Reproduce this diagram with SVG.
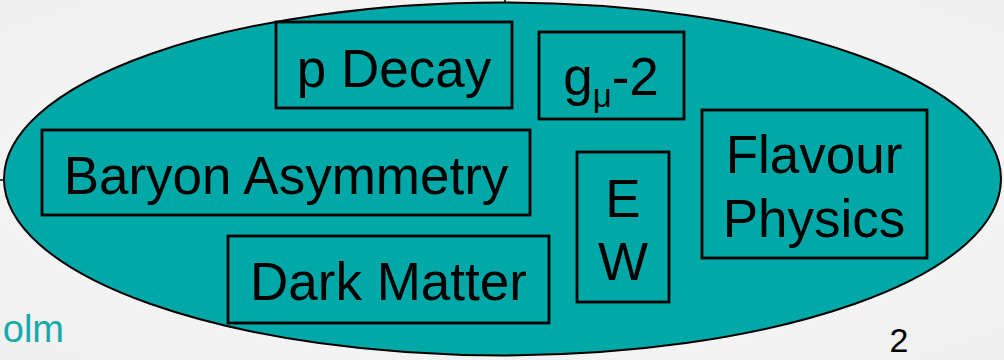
<svg xmlns="http://www.w3.org/2000/svg" width="1004" height="360" viewBox="0 0 1004 360">
  <defs>
    <radialGradient id="bg" cx="0.5" cy="0.5" r="0.7">
      <stop offset="0" stop-color="#f9f9f9"/>
      <stop offset="1" stop-color="#f0f0f0"/>
    </radialGradient>
  </defs>
  <style>
    .box { fill: none; stroke: #000; stroke-width: 2.8; }
    .lbl { font-family: "Liberation Sans", Arial, sans-serif; font-size: 53px; fill: #000; text-anchor: middle; }
    .foot { font-family: "Liberation Sans", Arial, sans-serif; }
  </style>
  <rect x="0" y="0" width="1004" height="360" fill="url(#bg)"/>
  <g id="connectors">
    <line x1="505" y1="0" x2="505" y2="3" stroke="#000" stroke-width="1.5"/>
    <line x1="0" y1="180" x2="5" y2="180" stroke="#000" stroke-width="1.5"/>
  </g>
  <g id="bsm-ellipse">
    <ellipse cx="502.5" cy="179" rx="498.5" ry="176.5" fill="#00A8A8" stroke="#000" stroke-width="2"/>
  </g>
  <g id="p-decay">
    <rect class="box" x="276" y="22" width="236" height="86"/>
    <text class="lbl" x="394" y="87">p Decay</text>
  </g>
  <g id="g-minus-2">
    <rect class="box" x="539" y="32" width="145" height="87"/>
    <text class="lbl" x="611" y="95">g<tspan font-size="33" dy="12">μ</tspan><tspan dy="-12">-2</tspan></text>
  </g>
  <g id="baryon-asymmetry">
    <rect class="box" x="42" y="130" width="488" height="85"/>
    <text class="lbl" x="286" y="194">Baryon Asymmetry</text>
  </g>
  <g id="ew">
    <rect class="box" x="577" y="152" width="92" height="150"/>
    <text class="lbl" x="623" y="217">E</text>
    <text class="lbl" x="623" y="280">W</text>
  </g>
  <g id="flavour-physics">
    <rect class="box" x="702" y="110" width="225" height="148"/>
    <text class="lbl" x="814" y="173">Flavour</text>
    <text class="lbl" x="814" y="237">Physics</text>
  </g>
  <g id="dark-matter">
    <rect class="box" x="228" y="236" width="321" height="87"/>
    <text class="lbl" x="388.5" y="300">Dark Matter</text>
  </g>
  <text class="foot" x="64" y="342" font-size="38" fill="#16AAAA" text-anchor="end">olm</text>
  <text class="foot" x="899" y="352" font-size="34" fill="#000" text-anchor="middle">2</text>
</svg>
